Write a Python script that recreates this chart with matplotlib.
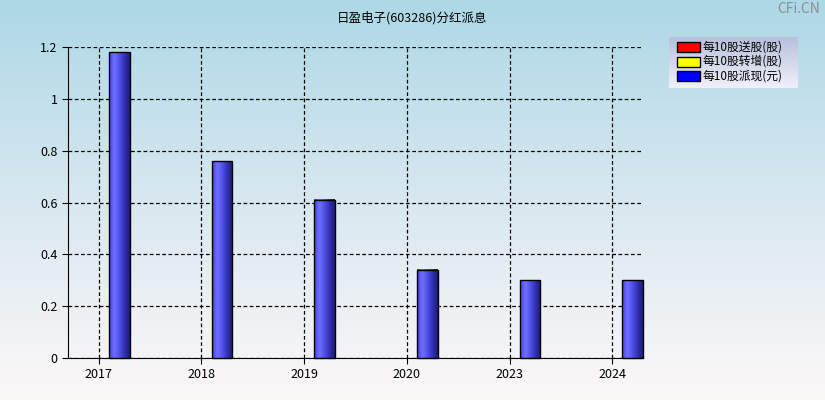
import numpy as np
import matplotlib.pyplot as plt
from matplotlib.colors import LinearSegmentedColormap
from matplotlib.patches import Rectangle

plt.rcParams['font.family'] = ['Noto Sans CJK SC', 'DejaVu Sans']

years = ['2017', '2018', '2019', '2020', '2023', '2024']
songgu = [0, 0, 0, 0, 0, 0]
zhuanzeng = [0, 0, 0, 0, 0, 0]
paixian = [1.18, 0.76, 0.61, 0.34, 0.30, 0.30]
title = '日盈电子(603286)分红派息'
legend_labels = ['每10股送股(股)', '每10股转增(股)', '每10股派现(元)']
legend_colors = ['#ff0000', '#ffff00', '#0000ff']

fig = plt.figure(figsize=(8.25, 4), dpi=100)

# background gradient for the whole figure
bg = fig.add_axes([0, 0, 1, 1], zorder=-10)
bg_cmap = LinearSegmentedColormap.from_list('bg', ['#add8e6', '#d8e8f0', '#fdf8f8'])
bg.imshow(np.linspace(0, 1, 256).reshape(-1, 1), aspect='auto', cmap=bg_cmap,
          extent=[0, 1, 0, 1])
bg.axis('off')

ax = fig.add_axes([68 / 825, 1 - 358 / 400, 575 / 825, 311 / 400])
ax.set_facecolor('none')

bar_cmap = LinearSegmentedColormap.from_list(
    'bar', ['#4040f0', '#7070ff', '#5050e8', '#3030b0', '#1c1c78'])
grad = np.linspace(0, 1, 64).reshape(1, -1)
w = 0.2
x = np.arange(len(years))
for xi, v in zip(x, paixian):
    left = xi + 0.1
    im = ax.imshow(grad, aspect='auto', cmap=bar_cmap,
                   extent=[left, left + w, 0, v], zorder=3)
    im.set_clip_on(False)
    ax.add_patch(Rectangle((left, 0), w, v, fill=False, edgecolor='black',
                           lw=1, zorder=4, clip_on=False))
ax.set_xlim(-0.3, 5.3)
ax.set_ylim(0, 1.2)

ax.set_xticks(x)
ax.set_xticklabels(years)
ax.set_yticks([0, 0.2, 0.4, 0.6, 0.8, 1, 1.2])
ax.set_yticklabels(['0', '0.2', '0.4', '0.6', '0.8', '1', '1.2'])
ax.tick_params(labelsize=9, length=4, color='black')
ax.grid(True, color='black', linestyle=(0, (3, 2)), lw=0.9)
ax.set_axisbelow(True)
for s in ['top', 'right']:
    ax.spines[s].set_visible(False)

fig.text(412 / 825, 1 - 18 / 400, title, ha='center', va='center', fontsize=9)
fig.text(820 / 825, 1 - 9 / 400, 'CFi.CN', ha='right', va='center',
         fontsize=10, color='#8a9098')

# legend box
lg = fig.add_axes([669 / 825, 1 - 88 / 400, 129 / 825, 51 / 400])
lg_cmap = LinearSegmentedColormap.from_list('lg', ['#f0f0fa', '#b8c0dc'])
lg.imshow(np.linspace(0, 1, 64).reshape(-1, 1), aspect='auto', cmap=lg_cmap,
          extent=[0, 1, 0, 1], origin='lower')
lg.set_xlim(0, 1)
lg.set_ylim(0, 1)
lg.axis('off')
for i, (lab, c) in enumerate(zip(legend_labels, legend_colors)):
    yc = 1 - (10 + i * 14.5) / 51
    lg.add_patch(Rectangle((8 / 129, yc - 5 / 51), 23 / 129, 10 / 51,
                           facecolor=c, edgecolor='black', lw=1))
    lg.text(34 / 129, yc, lab, va='center', ha='left', fontsize=8.5)

fig.savefig('out.png', dpi=100)
